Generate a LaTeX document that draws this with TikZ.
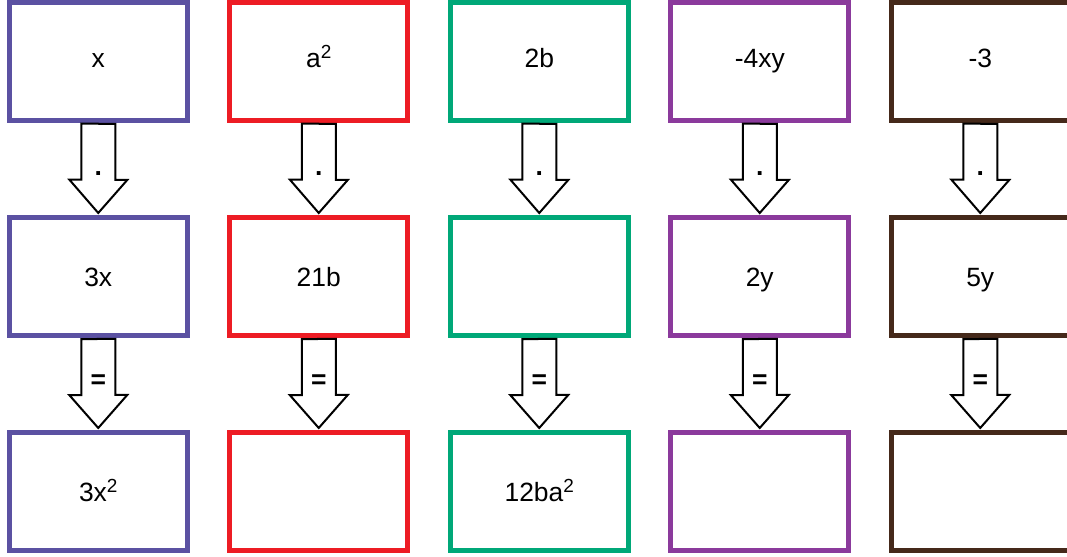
\documentclass[tikz,border=0pt]{standalone}
\usepackage{fontspec}
\setmainfont{Liberation Sans}
\usetikzlibrary{calc}
\definecolor{colA}{HTML}{5B51A2}
\definecolor{colB}{HTML}{ED1C24}
\definecolor{colC}{HTML}{00A878}
\definecolor{colD}{HTML}{8B3A9C}
\definecolor{colE}{HTML}{45291A}
\newcommand{\sqr}{\raisebox{0.34em}{\fontsize{13.5}{14}\selectfont 2}}
\tikzset{
    box/.style={draw=#1, line width=0.125cm, fill=white, minimum width=4.4375cm,
        minimum height=2.9375cm, inner sep=0pt, text height=0.6cm, text depth=0.1cm,
        font=\fontsize{18.8}{22}\selectfont},
    toprow/.style={text height=0.5cm, text depth=0.175cm},
    blockarrow/.style={draw=black, line width=0.05cm, fill=white, line join=miter},
    oplabel/.style={font=\fontsize{18.8}{22}\selectfont\bfseries}
}
\begin{document}
\begin{tikzpicture}[x=0.025cm,y=-0.025cm]
    \useasboundingbox (0,0) rectangle (1067,557);
    % first row
    \node[box=colA,toprow] (xa) at (98.25,61.25) {x};
    \node[box=colB,toprow] (ya) at (318.75,61.25) {a\sqr};
    \node[box=colC,toprow] (za) at (539.25,61.25) {2b};
    \node[box=colD,toprow] (ua) at (759.75,61.25) {-4xy};
    \node[box=colE,toprow] (va) at (980.25,61.25) {-3};
    % second row
    \node[box=colA] (xb) at (98.25,276.75) {3x};
    \node[box=colB] (yb) at (318.75,276.75) {21b};
    \node[box=colC] (zb) at (539.25,276.75) {};
    \node[box=colD] (ub) at (759.75,276.75) {2y};
    \node[box=colE] (vb) at (980.25,276.75) {5y};
    % third row
    \node[box=colA] (xc) at (98.25,491.75) {3x\sqr};
    \node[box=colB] (yc) at (318.75,491.75) {};
    \node[box=colC] (zc) at (539.25,491.75) {12ba\sqr};
    \node[box=colD] (uc) at (759.75,491.75) {};
    \node[box=colE] (vc) at (980.25,491.75) {};
    % arrows with a dot
    \draw[blockarrow] ($(xa.south)+(-17,1)$) -- ++(0,56) -- ++(-12,0) -- ($(xb.north)+(0,-2.5)$) -- ++(29,-33) -- ++(-12,0) -- ++(0,-56) -- cycle;
    \draw[blockarrow] ($(ya.south)+(-17,1)$) -- ++(0,56) -- ++(-12,0) -- ($(yb.north)+(0,-2.5)$) -- ++(29,-33) -- ++(-12,0) -- ++(0,-56) -- cycle;
    \draw[blockarrow] ($(za.south)+(-17,1)$) -- ++(0,56) -- ++(-12,0) -- ($(zb.north)+(0,-2.5)$) -- ++(29,-33) -- ++(-12,0) -- ++(0,-56) -- cycle;
    \draw[blockarrow] ($(ua.south)+(-17,1)$) -- ++(0,56) -- ++(-12,0) -- ($(ub.north)+(0,-2.5)$) -- ++(29,-33) -- ++(-12,0) -- ++(0,-56) -- cycle;
    \draw[blockarrow] ($(va.south)+(-17,1)$) -- ++(0,56) -- ++(-12,0) -- ($(vb.north)+(0,-2.5)$) -- ++(29,-33) -- ++(-12,0) -- ++(0,-56) -- cycle;
    \node[oplabel] (xdot) at ($(xa.south)+(0,51)$) {.};
    \node[oplabel] (ydot) at ($(ya.south)+(0,51)$) {.};
    \node[oplabel] (zdot) at ($(za.south)+(0,51)$) {.};
    \node[oplabel] (udot) at ($(ua.south)+(0,51)$) {.};
    \node[oplabel] (vdot) at ($(va.south)+(0,51)$) {.};
    % arrows with an equal sign
    \draw[blockarrow] ($(xb.south)+(-17,1)$) -- ++(0,56) -- ++(-12,0) -- ($(xc.north)+(0,-2.5)$) -- ++(29,-33) -- ++(-12,0) -- ++(0,-56) -- cycle;
    \draw[blockarrow] ($(yb.south)+(-17,1)$) -- ++(0,56) -- ++(-12,0) -- ($(yc.north)+(0,-2.5)$) -- ++(29,-33) -- ++(-12,0) -- ++(0,-56) -- cycle;
    \draw[blockarrow] ($(zb.south)+(-17,1)$) -- ++(0,56) -- ++(-12,0) -- ($(zc.north)+(0,-2.5)$) -- ++(29,-33) -- ++(-12,0) -- ++(0,-56) -- cycle;
    \draw[blockarrow] ($(ub.south)+(-17,1)$) -- ++(0,56) -- ++(-12,0) -- ($(uc.north)+(0,-2.5)$) -- ++(29,-33) -- ++(-12,0) -- ++(0,-56) -- cycle;
    \draw[blockarrow] ($(vb.south)+(-17,1)$) -- ++(0,56) -- ++(-12,0) -- ($(vc.north)+(0,-2.5)$) -- ++(29,-33) -- ++(-12,0) -- ++(0,-56) -- cycle;
    \node[oplabel] (xeq) at ($(xb.south)+(0,44)$) {=};
    \node[oplabel] (yeq) at ($(yb.south)+(0,44)$) {=};
    \node[oplabel] (zeq) at ($(zb.south)+(0,44)$) {=};
    \node[oplabel] (ueq) at ($(ub.south)+(0,44)$) {=};
    \node[oplabel] (veq) at ($(vb.south)+(0,44)$) {=};
\end{tikzpicture}
\end{document}
